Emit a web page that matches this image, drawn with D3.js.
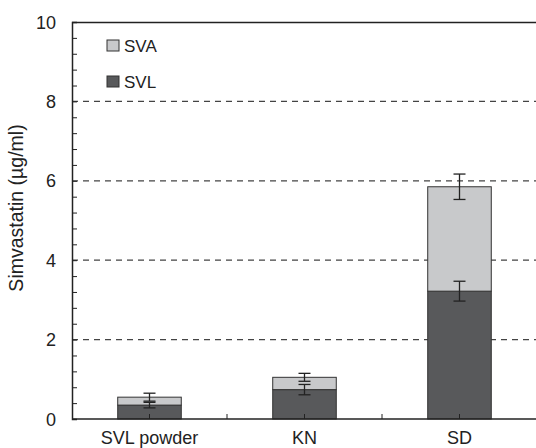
<!DOCTYPE html>
<html>
<head>
<meta charset="utf-8">
<script src="https://cdn.jsdelivr.net/npm/d3@7"></script>
<style>
  body { margin: 0; background: #fff; }
  text { font-family: "Liberation Sans", Arial, sans-serif; fill: #222; }
</style>
</head>
<body>
<div id="chart-area"></div>
<script>
// Data
const categories = ['SVL powder', 'KN', 'SD'];
const svlValues = [0.35, 0.74, 3.22];
const svaValues = [0.20, 0.31, 2.63];
const svlErrors = [0.07, 0.13, 0.25];
const totalErrors = [0.10, 0.10, 0.32];
const yTicks = [0, 2, 4, 6, 8, 10];
const seriesNames = ['SVA', 'SVL'];
const seriesColors = { SVA: '#c8c9cb', SVL: '#58595b' };

// Margin
const margin = { left: 72, right: 0, top: 22, bottom: 29 };
const width = 536 - margin.left - margin.right;
const height = 448 - margin.top - margin.bottom;

const svg = d3.select('#chart-area')
  .append('svg')
    .attr('width', 536)
    .attr('height', 448);

const g = svg.append('g')
  .attr('transform', 'translate(' + margin.left + ', ' + margin.top + ')');

// Scales
const x = d3.scaleBand()
  .domain(categories)
  .range([0, width + 1])
  .paddingInner(0.59)
  .paddingOuter(0.295);

const y = d3.scaleLinear()
  .domain([0, 10])
  .range([height, 0]);

// Gridlines
g.selectAll('.grid')
  .data([2, 4, 6, 8])
  .enter().append('line')
    .attr('x1', 0)
    .attr('x2', width)
    .attr('y1', d => y(d))
    .attr('y2', d => y(d))
    .attr('stroke', '#444')
    .attr('stroke-width', 1.2)
    .attr('stroke-dasharray', '6,5');

// Stacked data
const rows = categories.map((c, i) => ({
  cat: c,
  SVL: svlValues[i],
  SVA: svaValues[i],
  svlErr: svlErrors[i],
  totErr: totalErrors[i]
}));
const stack = d3.stack().keys(['SVL', 'SVA'])(rows);

g.selectAll('.layer')
  .data(stack)
  .enter().append('g')
    .attr('fill', d => seriesColors[d.key])
  .selectAll('rect')
  .data(d => d)
  .enter().append('rect')
    .attr('x', d => x(d.data.cat))
    .attr('width', x.bandwidth())
    .attr('y', d => y(d[1]))
    .attr('height', d => y(d[0]) - y(d[1]))
    .attr('stroke', '#333')
    .attr('stroke-width', 1);

// Error bars
const errs = [];
rows.forEach(r => {
  errs.push({ cat: r.cat, v: r.SVL, e: r.svlErr });
  errs.push({ cat: r.cat, v: r.SVL + r.SVA, e: r.totErr });
});
const cap = 6;
const eg = g.selectAll('.err')
  .data(errs)
  .enter().append('g')
    .attr('stroke', '#222')
    .attr('stroke-width', 1.3);
eg.append('line')
  .attr('x1', d => x(d.cat) + x.bandwidth() / 2)
  .attr('x2', d => x(d.cat) + x.bandwidth() / 2)
  .attr('y1', d => y(d.v - d.e))
  .attr('y2', d => y(d.v + d.e));
eg.append('line')
  .attr('x1', d => x(d.cat) + x.bandwidth() / 2 - cap)
  .attr('x2', d => x(d.cat) + x.bandwidth() / 2 + cap)
  .attr('y1', d => y(d.v + d.e))
  .attr('y2', d => y(d.v + d.e));
eg.append('line')
  .attr('x1', d => x(d.cat) + x.bandwidth() / 2 - cap)
  .attr('x2', d => x(d.cat) + x.bandwidth() / 2 + cap)
  .attr('y1', d => y(d.v - d.e))
  .attr('y2', d => y(d.v - d.e));

// Y axis (minor ticks inward)
const yAxis = g.append('g')
  .call(d3.axisLeft(y).tickValues(d3.range(0, 10.01, 0.4)).tickSize(-5).tickFormat(''));
yAxis.select('.domain').attr('stroke', '#222').attr('stroke-width', 1.5);
yAxis.selectAll('.tick line').attr('stroke', '#222').attr('stroke-width', 1);

g.selectAll('.ylabel')
  .data(yTicks)
  .enter().append('text')
    .attr('x', -16)
    .attr('y', d => y(d) + 6.5)
    .attr('text-anchor', 'end')
    .attr('font-size', '18px')
    .text(d => d);

// X axis
const step = x.step();
const xTickPos = [];
categories.forEach(c => {
  xTickPos.push(x(c) + x.bandwidth() / 2);
  xTickPos.push(x(c) + x.bandwidth() / 2 + step / 2);
});
const xAxis = g.append('g')
  .attr('transform', 'translate(0, ' + height + ')');
xAxis.append('line')
  .attr('x1', 0).attr('x2', width)
  .attr('stroke', '#222').attr('stroke-width', 1.5);
xAxis.selectAll('.xt')
  .data(xTickPos)
  .enter().append('line')
    .attr('x1', d => d).attr('x2', d => d)
    .attr('y1', 0).attr('y2', -5)
    .attr('stroke', '#222');
xAxis.selectAll('.xl')
  .data(categories)
  .enter().append('text')
    .attr('x', d => x(d) + x.bandwidth() / 2)
    .attr('y', 25)
    .attr('text-anchor', 'middle')
    .attr('font-size', '18px')
    .text(d => d);

// Top frame line
g.append('line')
  .attr('x1', 0).attr('x2', width)
  .attr('y1', 0.5).attr('y2', 0.5)
  .attr('stroke', '#222').attr('stroke-width', 1.5);

// Y Label
g.append('text')
  .attr('transform', 'rotate(-90)')
  .attr('x', -186)
  .attr('y', -49)
  .attr('text-anchor', 'middle')
  .attr('font-size', '19.5px')
  .text('Simvastatin (\u00b5g/ml)');

// Legend
const legend = g.selectAll('.legend')
  .data(seriesNames)
  .enter().append('g')
    .attr('transform', (d, i) => 'translate(35, ' + (18 + i * 36) + ')');
legend.append('rect')
  .attr('width', 12)
  .attr('height', 11)
  .attr('fill', d => seriesColors[d])
  .attr('stroke', '#333');
legend.append('text')
  .attr('x', 17)
  .attr('y', 12)
  .attr('font-size', '17px')
  .text(d => d);
</script>
</body>
</html>
